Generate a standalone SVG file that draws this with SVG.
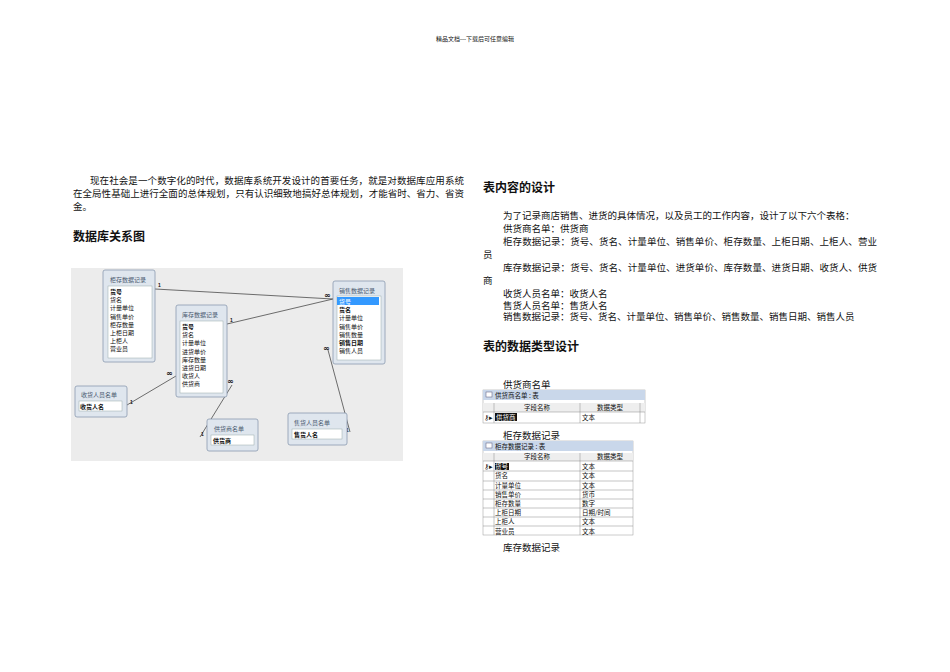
<svg xmlns="http://www.w3.org/2000/svg" width="950" height="672" viewBox="0 0 950 672">
<style>
.s{font-family:"Liberation Serif","Noto Sans CJK SC",serif;font-size:9.5px;fill:#111}
.h{font-family:"Liberation Sans","Noto Sans CJK SC",sans-serif;font-size:12px;font-weight:bold;fill:#111}
.bx{fill:#dfe6ee;stroke:#8a9bb0;stroke-width:0.8}
.ls{fill:#fff;stroke:#9aa;stroke-width:0.5}
.tt{font-family:"Noto Sans CJK SC",sans-serif;font-size:6px;fill:#4a5a70}
.f{font-family:"Noto Sans CJK SC",sans-serif;font-size:6px;fill:#111}
.b{font-weight:bold}
.ln{stroke:#333;stroke-width:0.7;fill:none}
.lb{font-family:"Liberation Sans",sans-serif;font-size:5px;font-weight:bold;fill:#111}
.inf{font-family:"DejaVu Sans",sans-serif;font-size:8px;font-weight:bold;fill:#111}
.t{font-family:"Noto Sans CJK SC",sans-serif;font-size:6.5px;fill:#111}
.w{fill:#fff}
.g{stroke:#888;stroke-width:0.5;fill:none}
</style>
<rect width="950" height="672" fill="#fff"/>
<text x="475" y="41" text-anchor="middle" class="s" style="font-size:6px">精品文档---下载后可任意编辑</text>
<text x="90" y="184" class="s" textLength="374">现在社会是一个数字化的时代，数据库系统开发设计的首要任务，就是对数据库应用系统</text>
<text x="73" y="197" class="s" textLength="391">在全局性基础上进行全面的总体规划，只有认识细致地搞好总体规划，才能省时、省力、省资</text>
<text x="73" y="210" class="s">金。</text>
<text x="73" y="241" class="h">数据库关系图</text>
<rect x="71" y="268" width="332" height="193" fill="#ececec"/>
<g id="connectors">
<line class="ln" x1="155" y1="289" x2="333" y2="299"/>
<line class="ln" x1="227" y1="324" x2="333" y2="299"/>
<line class="ln" x1="127" y1="405" x2="176" y2="376"/>
<line class="ln" x1="232" y1="385" x2="200" y2="437"/>
<line class="ln" x1="328" y1="350" x2="350" y2="432"/>
<text class="lb" x="158" y="287">1</text><text class="inf" x="324" y="298">∞</text>
<text class="lb" x="230" y="322">1</text>
<text class="lb" x="130" y="404">1</text><text class="inf" x="166" y="376">∞</text>
<text class="inf" x="227" y="384">∞</text><text class="lb" x="201" y="436">1</text>
<text class="inf" x="323" y="351">∞</text><text class="lb" x="346" y="432">1</text>
</g>
<g id="n1"><rect class="bx" x="103" y="270" width="52" height="92" rx="2"/><text class="tt" x="110" y="282">柜存数据记录</text><rect class="ls" x="108" y="286" width="44" height="72"/>
<text class="f" x="110" y="294"><tspan class="b">货号</tspan><tspan x="110" dy="8.2">货名</tspan><tspan x="110" dy="8.2">计量单位</tspan><tspan x="110" dy="8.2">销售单价</tspan><tspan x="110" dy="8.2">柜存数量</tspan><tspan x="110" dy="8.2">上柜日期</tspan><tspan x="110" dy="8.2">上柜人</tspan><tspan x="110" dy="8.2">营业员</tspan></text></g>
<g id="n2"><rect class="bx" x="176" y="305" width="51" height="92" rx="2"/><text class="tt" x="182" y="317">库存数据记录</text><rect class="ls" x="180" y="321" width="43" height="72"/>
<text class="f" x="182" y="329"><tspan class="b">货号</tspan><tspan x="182" dy="8.2">货名</tspan><tspan x="182" dy="8.2">计量单位</tspan><tspan x="182" dy="8.2">进货单价</tspan><tspan x="182" dy="8.2">库存数量</tspan><tspan x="182" dy="8.2">进货日期</tspan><tspan x="182" dy="8.2">收货人</tspan><tspan x="182" dy="8.2">供货商</tspan></text></g>
<g id="n3"><rect class="bx" x="333" y="281" width="52" height="83" rx="2"/><text class="tt" x="339" y="293">销售数据记录</text><rect class="ls" x="337" y="296" width="44" height="64"/><rect x="337" y="297" width="42" height="8" fill="#3399ff"/>
<text class="f" x="339" y="304"><tspan class="w">货号</tspan><tspan x="339" dy="8.2" class="b">货名</tspan><tspan x="339" dy="8.2">计量单位</tspan><tspan x="339" dy="8.2">销售单价</tspan><tspan x="339" dy="8.2">销售数量</tspan><tspan x="339" dy="8.2" class="b">销售日期</tspan><tspan x="339" dy="8.2">销售人员</tspan></text></g>
<g id="n4"><rect class="bx" x="75" y="386" width="52" height="31" rx="2"/><text class="tt" x="81" y="397">收货人员名单</text><rect class="ls" x="79" y="401" width="43" height="10"/><text class="f b" x="80" y="409">收货人名</text></g>
<g id="n5"><rect class="bx" x="207" y="419" width="51" height="32" rx="2"/><text class="tt" x="214" y="431">供货商名单</text><rect class="ls" x="211" y="435" width="43" height="10"/><text class="f b" x="213" y="443">供货商</text></g>
<g id="n6"><rect class="bx" x="288" y="413" width="59" height="32" rx="2"/><text class="tt" x="294" y="425">售货人员名单</text><rect class="ls" x="292" y="429" width="50" height="10"/><text class="f b" x="294" y="437">售货人名</text></g>
<text x="483" y="192" class="h">表内容的设计</text>
<text x="503" y="219" class="s">为了记录商店销售、进货的具体情况，以及员工的工作内容，设计了以下六个表格：</text>
<text x="503" y="232" class="s">供货商名单：供货商</text>
<text x="503" y="245" class="s" textLength="374">柜存数据记录：货号、货名、计量单位、销售单价、柜存数量、上柜日期、上柜人、营业</text>
<text x="483" y="258" class="s">员</text>
<text x="503" y="271" class="s" textLength="374">库存数据记录：货号、货名、计量单位、进货单价、库存数量、进货日期、收货人、供货</text>
<text x="483" y="284" class="s">商</text>
<text x="503" y="297" class="s">收货人员名单：收货人名</text>
<text x="503" y="309" class="s">售货人员名单：售货人名</text>
<text x="503" y="320" class="s">销售数据记录：货号、货名、计量单位、销售单价、销售数量、销售日期、销售人员</text>
<text x="483" y="351" class="h">表的数据类型设计</text>
<text x="503" y="388" class="s">供货商名单</text>
<g id="t1"><rect x="483" y="390" width="162" height="33" fill="#fff" stroke="#999" stroke-width="0.5"/><rect x="483" y="390" width="162" height="10" fill="#c9d7ea"/><rect x="486" y="392" width="6" height="5" fill="#fff" stroke="#557" stroke-width="0.5"/><text class="t" x="495" y="398">供货商名单 : 表</text>
<rect x="483" y="403" width="162" height="9" fill="#eee"/><line class="g" x1="494" y1="403" x2="494" y2="423"/><line class="g" x1="580" y1="403" x2="580" y2="423"/><line class="g" x1="640" y1="403" x2="640" y2="423"/><line class="g" x1="483" y1="412" x2="645" y2="412"/>
<text class="t" x="537" y="410" text-anchor="middle">字段名称</text><text class="t" x="610" y="410" text-anchor="middle">数据类型</text>
<rect x="495" y="413" width="22" height="8" fill="#111"/><text class="t w" x="496" y="420">供货商</text><text class="t" x="484" y="420">⚷▸</text><text class="t" x="582" y="420">文本</text></g>
<text x="503" y="439" class="s">柜存数据记录</text>
<g id="t2"><rect x="483" y="441" width="150" height="94" fill="#fff" stroke="#999" stroke-width="0.5"/><rect x="483" y="441" width="150" height="10" fill="#c9d7ea"/><rect x="486" y="443" width="6" height="5" fill="#fff" stroke="#557" stroke-width="0.5"/><text class="t" x="495" y="449">柜存数据记录 : 表</text>
<rect x="483" y="453" width="150" height="8" fill="#eee"/>
<line class="g" x1="494" y1="453" x2="494" y2="535"/><line class="g" x1="580" y1="453" x2="580" y2="535"/>
<path class="g" d="M483 461H633M483 471H633M483 481H633M483 490H633M483 499H633M483 508H633M483 517H633M483 526H633"/>
<text class="t" x="537" y="459" text-anchor="middle">字段名称</text><text class="t" x="610" y="459" text-anchor="middle">数据类型</text>
<rect x="495" y="463" width="14" height="7" fill="#111"/><text class="t" x="484" y="469">⚷▸</text>
<text class="t" x="495" y="469"><tspan class="w">货号</tspan><tspan x="495" dy="9.4">货名</tspan><tspan x="495" dy="9.2">计量单位</tspan><tspan x="495" dy="9.2">销售单价</tspan><tspan x="495" dy="9.2">柜存数量</tspan><tspan x="495" dy="9.2">上柜日期</tspan><tspan x="495" dy="9.2">上柜人</tspan><tspan x="495" dy="9.2">营业员</tspan></text>
<text class="t" x="582" y="469"><tspan>文本</tspan><tspan x="582" dy="9.4">文本</tspan><tspan x="582" dy="9.2">文本</tspan><tspan x="582" dy="9.2">货币</tspan><tspan x="582" dy="9.2">数字</tspan><tspan x="582" dy="9.2">日期/时间</tspan><tspan x="582" dy="9.2">文本</tspan><tspan x="582" dy="9.2">文本</tspan></text></g>
<text x="503" y="551" class="s">库存数据记录</text>
</svg>
